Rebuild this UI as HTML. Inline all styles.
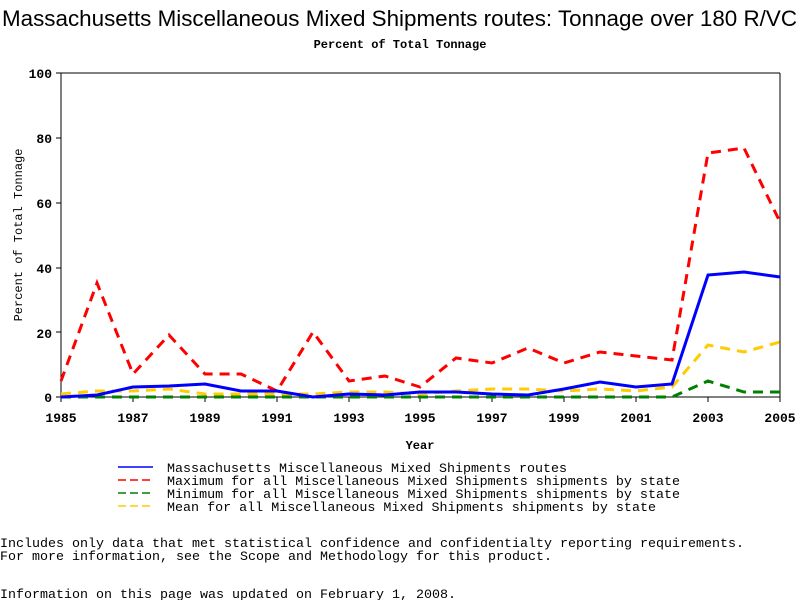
<!DOCTYPE html>
<html><head><meta charset="utf-8"><style>
body{margin:0;background:#fff;width:800px;height:600px;overflow:hidden}
svg{display:block}
text{font-family:"Liberation Mono",monospace}
</style></head><body>
<svg width="800" height="600" xmlns="http://www.w3.org/2000/svg">
<text x="2" y="26" textLength="795" lengthAdjust="spacingAndGlyphs" style="font-family:'Liberation Sans',sans-serif;font-size:22px">Massachusetts Miscellaneous Mixed Shipments routes: Tonnage over 180 R/VC</text>
<text x="400" y="48" text-anchor="middle" font-size="12" font-weight="bold">Percent of Total Tonnage</text>
<g font-size="13" font-weight="bold" text-anchor="end">
<text x="52" y="78">100</text><text x="52" y="143">80</text><text x="52" y="208">60</text><text x="52" y="273">40</text><text x="52" y="338">20</text><text x="52" y="402">0</text>
</g>
<g stroke="#000" stroke-width="1">
<line x1="61" y1="73" x2="780" y2="73"/><line x1="61" y1="73" x2="61" y2="397"/><line x1="61" y1="397" x2="780" y2="397"/><line x1="780" y1="73" x2="780" y2="397"/>
<line x1="56" y1="73" x2="61" y2="73"/><line x1="56" y1="138" x2="61" y2="138"/><line x1="56" y1="203" x2="61" y2="203"/><line x1="56" y1="268" x2="61" y2="268"/><line x1="56" y1="332" x2="61" y2="332"/><line x1="56" y1="397" x2="61" y2="397"/>
<line x1="61" y1="397" x2="61" y2="402"/><line x1="133" y1="397" x2="133" y2="402"/><line x1="205" y1="397" x2="205" y2="402"/><line x1="277" y1="397" x2="277" y2="402"/><line x1="349" y1="397" x2="349" y2="402"/><line x1="420" y1="397" x2="420" y2="402"/><line x1="492" y1="397" x2="492" y2="402"/><line x1="564" y1="397" x2="564" y2="402"/><line x1="636" y1="397" x2="636" y2="402"/><line x1="708" y1="397" x2="708" y2="402"/><line x1="780" y1="397" x2="780" y2="402"/>
</g>
<g font-size="13" font-weight="bold" text-anchor="middle">
<text x="61" y="422">1985</text><text x="133" y="422">1987</text><text x="205" y="422">1989</text><text x="277" y="422">1991</text><text x="349" y="422">1993</text><text x="420" y="422">1995</text><text x="492" y="422">1997</text><text x="564" y="422">1999</text><text x="636" y="422">2001</text><text x="708" y="422">2003</text><text x="780" y="422">2005</text>
</g>
<text x="420" y="449" text-anchor="middle" font-size="12" font-weight="bold">Year</text>
<text transform="translate(22,235) rotate(-90)" text-anchor="middle" font-size="12">Percent of Total Tonnage</text>
<g fill="none" stroke-width="3" stroke-dasharray="10,7">
<polyline stroke="#ffcc00" points="61,394 97,391 133,391 169,389 205,394 241,394 277,394 313,394 349,392 385,392 420,394 456,391 492,389 528,389 564,391 600,389 636,391 672,387 708,345 744,352 780,342"/>
<polyline stroke="#008000" points="61,397 97,397 133,397 169,397 205,397 241,397 277,397 313,397 349,397 385,397 420,397 456,397 492,397 528,397 564,397 600,397 636,397 672,397 708,381 744,392 780,392"/>
<polyline stroke="#ff0000" points="61,381 97,283 133,374 169,335 205,374 241,374 277,391 313,332 349,381 385,376 420,387 456,358 492,363 528,348 564,363 600,352 636,356 672,360 708,153 744,148 780,222"/>
</g>
<polyline fill="none" stroke="#0000ff" stroke-width="3" points="61,397 97,395 133,387 169,386 205,384 241,391 277,391 313,397 349,394 385,395 420,392 456,392 492,394 528,395 564,389 600,382 636,387 672,384 708,275 744,272 780,277"/>
<g stroke-width="1.5">
<line x1="118" y1="467" x2="153" y2="467" stroke="#0000ff"/>
<line x1="118" y1="480" x2="153" y2="480" stroke="#ff0000" stroke-dasharray="8,4"/>
<line x1="118" y1="493" x2="153" y2="493" stroke="#008000" stroke-dasharray="8,4"/>
<line x1="118" y1="506" x2="153" y2="506" stroke="#ffcc00" stroke-dasharray="8,4"/>
</g>
<g font-size="13">
<text x="167" y="472" textLength="400" lengthAdjust="spacingAndGlyphs">Massachusetts Miscellaneous Mixed Shipments routes</text>
<text x="167" y="485" textLength="513" lengthAdjust="spacingAndGlyphs">Maximum for all Miscellaneous Mixed Shipments shipments by state</text>
<text x="167" y="498" textLength="513" lengthAdjust="spacingAndGlyphs">Minimum for all Miscellaneous Mixed Shipments shipments by state</text>
<text x="167" y="511" textLength="489" lengthAdjust="spacingAndGlyphs">Mean for all Miscellaneous Mixed Shipments shipments by state</text>
<text x="0" y="547" textLength="744" lengthAdjust="spacingAndGlyphs">Includes only data that met statistical confidence and confidentialty reporting requirements.</text>
<text x="0" y="560" textLength="552" lengthAdjust="spacingAndGlyphs">For more information, see the Scope and Methodology for this product.</text>
<text x="0" y="598" textLength="456" lengthAdjust="spacingAndGlyphs">Information on this page was updated on February 1, 2008.</text>
</g>
</svg>
</body></html>
